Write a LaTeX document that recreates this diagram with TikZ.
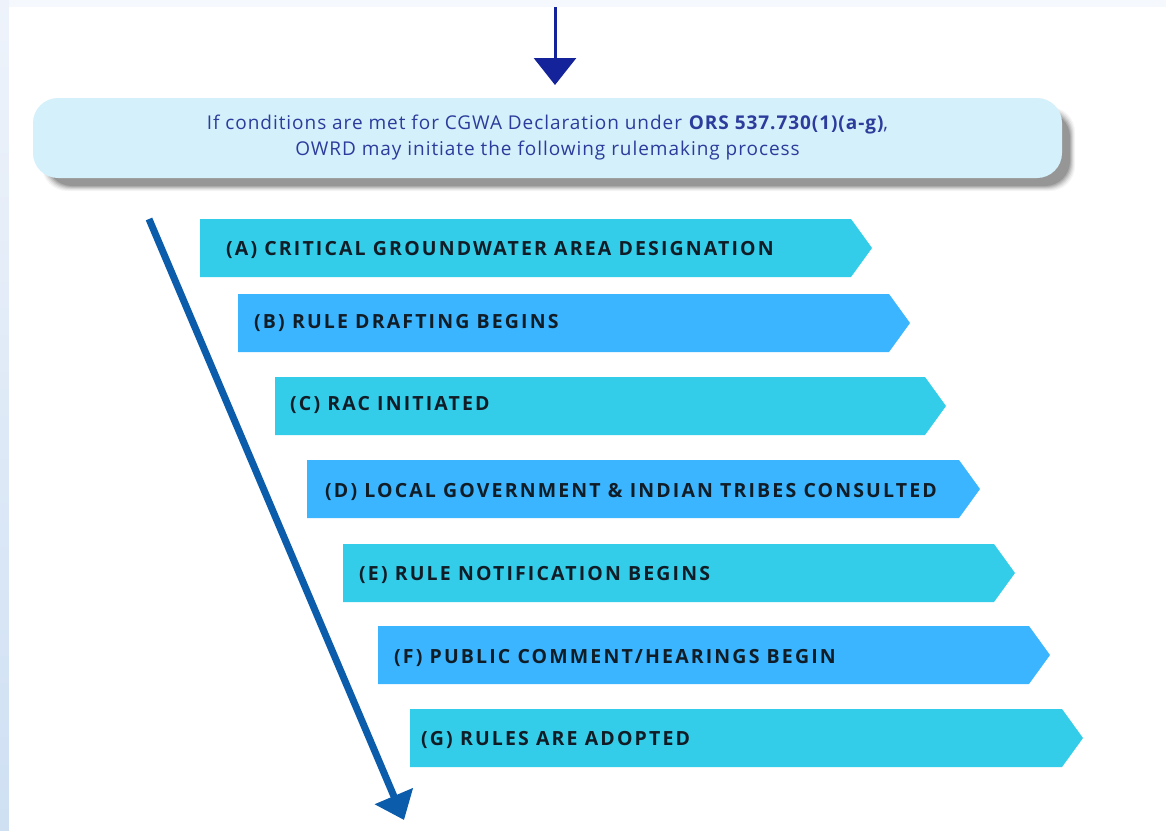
\documentclass[tikz,border=0pt]{standalone}
\usepackage{fontspec}
\setmainfont{Open Sans}
\newfontfamily\chevfont[LetterSpace=11]{Open Sans}
\newfontfamily\boxfont[LetterSpace=5]{Open Sans}
\usetikzlibrary{arrows.meta}
\definecolor{bgstrip}{HTML}{EEF3FB}
\definecolor{bgstripb}{HTML}{CFE0F3}
\definecolor{boxfill}{HTML}{D4F0FA}
\definecolor{navytext}{HTML}{2B3C9C}
\definecolor{toparrow}{HTML}{15239A}
\definecolor{longarrow}{HTML}{0B5CAB}
\definecolor{cyanchev}{HTML}{33CDE9}
\definecolor{bluechev}{HTML}{3BB5FF}
\definecolor{chevtext}{HTML}{101C26}
\tikzset{
  chevlabel/.style={anchor=west, inner sep=0pt, text=chevtext,
    font=\chevfont\bfseries\fontsize{19.5}{22}\selectfont},
  mainbox/.style={rounded corners=25pt, fill=boxfill, minimum width=1029pt,
    minimum height=80pt, align=center, text=navytext,
    font=\boxfont\fontsize{19}{26}\selectfont},
}
\newcommand{\chevshape}[4]{% x, y(center), colour, right end of rect
  \fill[#3] (#1,#2-29) -- (#4,#2-29) -- (#4+21,#2) -- (#4,#2+29) -- (#1,#2+29) -- cycle;}
\begin{document}
\begin{tikzpicture}[x=1pt,y=-1pt]
\useasboundingbox (0,0) rectangle (1166,830);
% background
\fill[bgstrip!60] (0,0) rectangle (1166,830);
\shade[top color=bgstrip, bottom color=bgstripb] (0,0) rectangle (9,830);
\fill[white] (9,7) rectangle (1166,830);
% main box shadow
\foreach \s/\o in {14/0.04,12/0.05,10/0.07,8/0.09,6/0.11,4/0.13}{
  \fill[black, opacity=\o, rounded corners=25pt] (37+12-\s/2,98+10-\s/2+6) rectangle (1062+6+\s/2,178+6+\s/2);
}
\node[mainbox] (main) at (547.5,138) {If conditions are met for CGWA Declaration under \textbf{ORS 537.730(1)(a-g)},\\OWRD may initiate the following rulemaking process};
% top arrow
\coordinate (topstart) at (555,7);
\coordinate (topend) at (555,85);
\draw[toparrow, line width=3pt, -{Triangle[width=42pt,length=27pt]}] (topstart) -- (topend);
% chevrons
\chevshape{200}{248}{cyanchev}{851}
\node[chevlabel] (a) at (226,250) {(A) CRITICAL GROUNDWATER AREA DESIGNATION};
\chevshape{238}{323}{bluechev}{889}
\node[chevlabel] (b) at (254,323) {(B) RULE DRAFTING BEGINS};
\chevshape{275}{406}{cyanchev}{925}
\node[chevlabel] (c) at (290,405) {(C) RAC INITIATED};
\chevshape{307}{489}{bluechev}{959}
\node[chevlabel] (d) at (325,492) {(D) LOCAL GOVERNMENT \& INDIAN TRIBES CONSULTED};
\chevshape{343}{573}{cyanchev}{994}
\node[chevlabel] (e) at (359,575) {(E) RULE NOTIFICATION BEGINS};
\chevshape{378}{655}{bluechev}{1029}
\node[chevlabel] (f) at (394,658) {(F) PUBLIC COMMENT/HEARINGS BEGIN};
\chevshape{410}{738}{cyanchev}{1062}
\node[chevlabel] (g) at (421,740) {(G) RULES ARE ADOPTED};
% long arrow
\coordinate (ls) at (149,219);
\coordinate (le) at (404,820);
\draw[longarrow, line width=7pt, -{Triangle[width=40pt,length=26pt]}] (ls) -- (le);
\end{tikzpicture}
\end{document}
